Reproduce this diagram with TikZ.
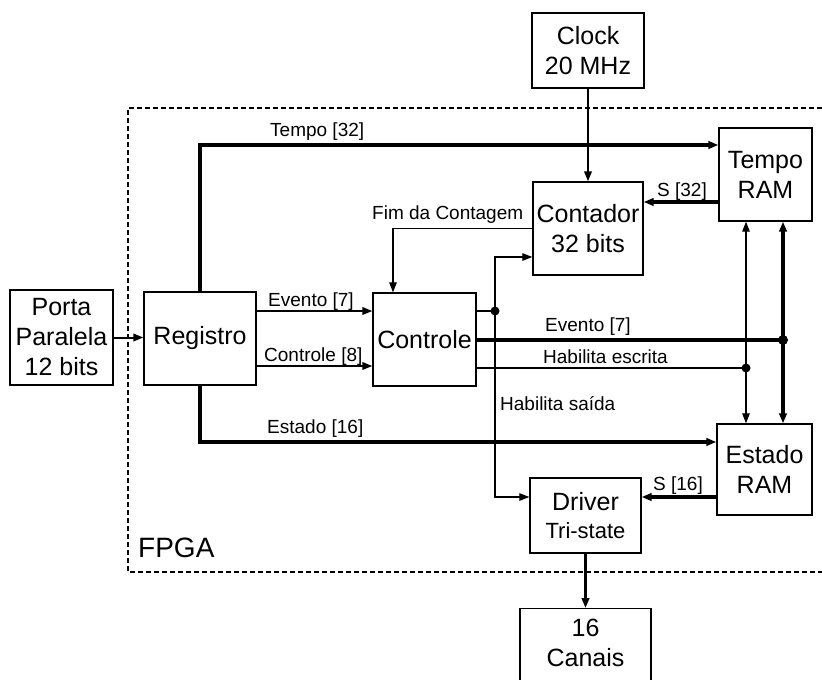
\documentclass[tikz,border=0pt]{standalone}
\usepackage{fontspec}
\setmainfont{Liberation Sans}
\usetikzlibrary{arrows.meta,calc}
\begin{document}
\begin{tikzpicture}[x=1pt,y=-1pt,
  blk/.style={draw,line width=1.3pt,inner sep=0pt,align=center,font=\fontsize{25}{30}\selectfont},
  lbl/.style={font=\fontsize{19}{21}\selectfont,inner sep=0pt,anchor=base west},
  tip/.tip={Triangle[length=10pt,width=7.5pt]},
  sigl/.style={line width=1.1pt},
  sig/.style={line width=1.1pt,-tip},
  medl/.style={line width=2pt,-tip},
  busl/.style={line width=3.2pt},
  bus/.style={line width=3.2pt,-tip},
  jdot/.style={fill=black},
  fpga/.style={line width=1.2pt,dash pattern=on 5pt off 3pt}
]
\useasboundingbox (0,0) rectangle (822,680);

% FPGA boundary
\draw[fpga] (830,108) -- (128,108) -- (128,572) -- (830,572);
\node[font=\fontsize{28}{30}\selectfont,inner sep=0pt,anchor=base west] (fpgalbl) at (138,557) {FPGA};

% blocks
\node[blk,minimum width=103,minimum height=95] (porta) at (61.5,337.5) {Porta\\Paralela\\12 bits};
\node[blk,minimum width=112,minimum height=93] (registro) at (200,338.5) {Registro};
\node[blk,minimum width=103,minimum height=93] (controle) at (424.5,339.5) {Controle};
\node[blk,minimum width=110,minimum height=93] (contador) at (588,228.5) {Contador\\32 bits};
\node[blk,minimum width=112,minimum height=75] (clock) at (588,50.5) {Clock\\20 MHz};
\node[blk,minimum width=93,minimum height=93] (tempo) at (765.5,174.5) {Tempo\\RAM};
\node[blk,minimum width=95,minimum height=91] (estado) at (764.5,469.5) {Estado\\RAM};
\node[blk,minimum width=111,minimum height=75] (driver) at (585.5,515.5) {Driver\\[-2pt]{\fontsize{22}{24}\selectfont Tri-state}};
\node[blk,minimum width=131,minimum height=82,anchor=north,
  label={[font=\fontsize{25}{30}\selectfont,align=center,inner sep=0pt,yshift=7pt]center:16\\Canais}] (canais) at (585.5,608) {};

% Porta -> Registro
\draw[medl] (porta.east) -- (porta.east -| registro.west);

% Tempo [32]
\coordinate (tc) at (200,145);
\draw[bus] (registro.north) -- (tc) -- (tc -| tempo.west);
\node[lbl] (ltempo) at (270,136.5) {Tempo [32]};

% Clock -> Contador
\draw[medl] (clock.south) -- (contador.north);

% S [32]
\draw[bus] ([yshift=-27.5pt]tempo.west) -- ([yshift=-27.5pt]tempo.west -| contador.east);
\node[lbl] (ls32) at (657,196) {S [32]};

% Fim da Contagem
\coordinate (fim) at (393,228.5);
\draw[sig] (contador.west) -- (fim) -- (fim |- controle.north);
\node[lbl] (lfim) at (372,219) {Fim da Contagem};

% Registro -> Controle
\draw[medl] ([yshift=27.5pt]registro.east) -- ([yshift=27.5pt]registro.east -| controle.west);
\node[lbl] (lev1) at (268,306) {Evento [7]};
\draw[medl] ([yshift=-27.5pt]registro.east) -- ([yshift=-27.5pt]registro.east -| controle.west);
\node[lbl] (lctl) at (264,361.5) {Controle [8]};

% Habilita saida
\coordinate (hj) at (495,311);
\coordinate (hs2) at (495,497);
\draw[sigl] (controle.east |- hj) -- (hj);
\draw[sigl,tip-tip] ([yshift=-28.5pt]contador.west) -| (hs2) -- (hs2 -| driver.west);
\fill[jdot] (hj) circle (4.5);
\node[lbl] (lhs) at (500,410) {Habilita saída};

% Evento [7] to RAMs
\coordinate (ej) at (783,340);
\draw[busl] (controle.east |- ej) -- (ej);
\draw[busl,tip-tip] (ej |- tempo.south) -- (ej |- estado.north);
\fill[jdot] (ej) circle (5);
\node[lbl] (lev2) at (545,331.5) {Evento [7]};

% Habilita escrita
\coordinate (wj) at (746,368);
\draw[sigl] (controle.east |- wj) -- (wj);
\draw[sigl,tip-tip] (wj |- tempo.south) -- (wj |- estado.north);
\fill[jdot] (wj) circle (4.5);
\node[lbl] (lhe) at (543,363.5) {Habilita escrita};

% Estado [16]
\coordinate (ec) at (200,442);
\draw[bus] (registro.south) -- (ec) -- (ec -| estado.west);
\node[lbl] (lest) at (267,433) {Estado [16]};

% S [16]
\draw[bus] ([yshift=-27.5pt]estado.west) -- ([yshift=-27.5pt]estado.west -| driver.east);
\node[lbl] (ls16) at (653,490) {S [16]};

% Driver -> Canais
\draw[bus] (driver.south) -- (canais.north);
\end{tikzpicture}
\end{document}
